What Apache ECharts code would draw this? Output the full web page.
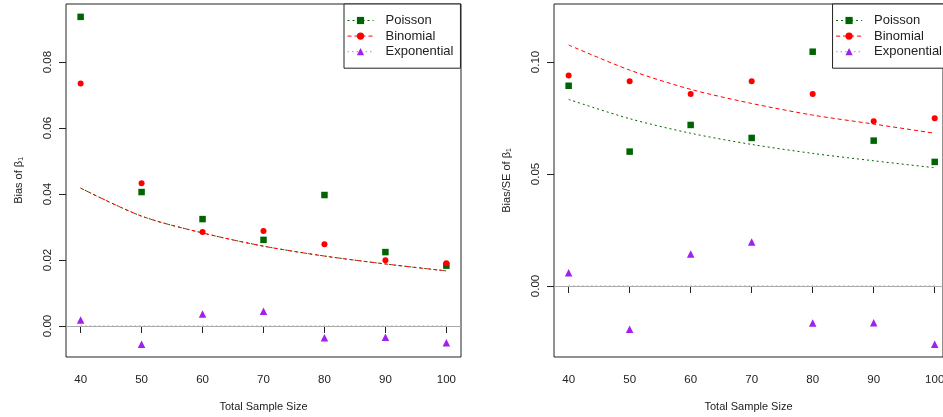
<!DOCTYPE html>
<html><head><meta charset="utf-8">
<script src="https://cdn.jsdelivr.net/npm/echarts@6/dist/echarts.min.js"></script>
<style>html,body{margin:0;padding:0;background:#fff}#c{width:943px;height:417px}</style>
</head><body><div id="c"></div>
<script>
const sampleSizes = [40, 50, 60, 70, 80, 90, 100];
const biasPoisson = [0.0937, 0.0406, 0.0324, 0.0261, 0.0397, 0.0224, 0.0183];
const biasBinomial = [0.0735, 0.0433, 0.0285, 0.0288, 0.0248, 0.0199, 0.0190];
const biasExponential = [0.0018, -0.0055, 0.0036, 0.0045, -0.0036, -0.0034, -0.0051];
const biasTheoryPoisson = [0.0418, 0.0333, 0.0282, 0.0242, 0.0212, 0.0188, 0.0167];
const biasTheoryBinomial = [0.0418, 0.0333, 0.0282, 0.0242, 0.0212, 0.0188, 0.0167];
const biasTheoryExponential = [0, 0, 0, 0, 0, 0, 0];
const bsePoisson = [0.0894, 0.0600, 0.0719, 0.0661, 0.1046, 0.0649, 0.0554];
const bseBinomial = [0.0940, 0.0914, 0.0857, 0.0914, 0.0857, 0.0735, 0.0749];
const bseExponential = [0.0059, -0.0193, 0.0143, 0.0196, -0.0165, -0.0164, -0.0260];
const bseTheoryPoisson = [0.0833, 0.0747, 0.0682, 0.0632, 0.0592, 0.0559, 0.0528];
const bseTheoryBinomial = [0.1076, 0.0964, 0.0878, 0.0815, 0.0763, 0.0723, 0.0682];
const bseTheoryExponential = [0, 0, 0, 0, 0, 0, 0];
const xTicks = [40, 50, 60, 70, 80, 90, 100];
const leftYTicks = [0, 0.02, 0.04, 0.06, 0.08];
const rightYTicks = [0, 0.05, 0.10];
const legendNames = ['Poisson', 'Binomial', 'Exponential'];

const FONT = 'Liberation Sans, Arial, Helvetica, sans-serif';
const GREEN = '#006400', RED = '#FF0000', PURPLE = '#A020F0', INK = '#222';

function zip(xs, ys) { return xs.map((x, i) => [x, ys[i]]); }

function xAxisFor(idx, max) {
  return {
    type: 'value', gridIndex: idx, min: 37.6, max: max,
    axisLine: { show: false }, splitLine: { show: false },
    axisTick: { show: true, length: 7, lineStyle: { color: INK }, customValues: xTicks },
    axisLabel: { customValues: xTicks, fontSize: 11.5, color: INK, fontFamily: FONT, margin: 17 },
    name: 'Total Sample Size', nameLocation: 'middle', nameGap: 44,
    nameTextStyle: { fontSize: 11, color: INK, fontFamily: FONT }
  };
}
function yAxisFor(idx, min, max, ticks, name) {
  return {
    type: 'value', gridIndex: idx, min: min, max: max,
    axisLine: { show: false }, splitLine: { show: false },
    axisTick: { show: true, length: 7, lineStyle: { color: INK }, customValues: ticks },
    axisLabel: { customValues: ticks, rotate: 90, fontSize: 11.5, color: INK, fontFamily: FONT, margin: 12,
      formatter: v => v.toFixed(2) },
    name: name, nameLocation: 'middle', nameGap: 42,
    nameTextStyle: { fontSize: 11, color: INK, fontFamily: FONT }
  };
}
function panelSeries(idx, thP, thB, thE, pP, pB, pE) {
  return [
    { type: 'line', name: 'Poisson', xAxisIndex: idx, yAxisIndex: idx, data: zip(sampleSizes, thP),
      symbol: 'rect', showSymbol: false, smooth: 0.3, z: 2,
      lineStyle: { color: GREEN, width: 1, type: [2, 3] }, itemStyle: { color: GREEN },
      markLine: { silent: true, symbol: 'none', label: { show: false }, animation: false,
        lineStyle: { color: '#aaaaaa', width: 1, type: 'solid' }, data: [{ yAxis: 0 }] } },
    { type: 'line', name: 'Binomial', xAxisIndex: idx, yAxisIndex: idx, data: zip(sampleSizes, thB),
      symbol: 'circle', showSymbol: false, smooth: 0.3, z: 3,
      lineStyle: { color: RED, width: 1, type: [4, 3] }, itemStyle: { color: RED } },
    { type: 'line', name: 'Exponential', xAxisIndex: idx, yAxisIndex: idx, data: zip(sampleSizes, thE),
      symbol: 'triangle', showSymbol: false, z: 3,
      lineStyle: { color: PURPLE, width: 1, type: [1.5, 3], opacity: 0.6 }, itemStyle: { color: PURPLE } },
    { type: 'scatter', name: 'Poisson points', xAxisIndex: idx, yAxisIndex: idx, data: zip(sampleSizes, pP),
      symbol: 'rect', symbolSize: 6.5, itemStyle: { color: GREEN, opacity: 1 }, z: 4 },
    { type: 'scatter', name: 'Binomial points', xAxisIndex: idx, yAxisIndex: idx, data: zip(sampleSizes, pB),
      symbol: 'circle', symbolSize: 6, itemStyle: { color: RED, opacity: 1 }, z: 4 },
    { type: 'scatter', name: 'Exponential points', xAxisIndex: idx, yAxisIndex: idx, data: zip(sampleSizes, pE),
      symbol: 'triangle', symbolSize: 7.5, itemStyle: { color: PURPLE, opacity: 1 }, z: 4 }
  ];
}
function legendAt(pos) {
  return Object.assign({
    data: legendNames, orient: 'vertical', top: 4,
    padding: [10, 7, 10, 3], itemWidth: 26, itemHeight: 9, itemGap: 2.6,
    borderColor: INK, borderWidth: 1, backgroundColor: '#fff', z: 10,
    selectedMode: false,
    lineStyle: { width: 1 },
    textStyle: { fontSize: 13, color: INK, fontFamily: FONT, padding: [0, 0, 0, 7] }
  }, pos);
}

const chart = echarts.init(document.getElementById('c'), null, { renderer: 'canvas' });
chart.setOption({
  animation: false,
  backgroundColor: '#fff',
  grid: [
    { left: 66, top: 4, width: 395, height: 353, show: true, borderColor: INK, borderWidth: 1,
      backgroundColor: 'transparent', outerBoundsMode: 'none', containLabel: false },
    { left: 554, top: 4, width: 389, height: 353, show: true, borderColor: INK, borderWidth: 1,
      backgroundColor: 'transparent', outerBoundsMode: 'none', containLabel: false }
  ],
  xAxis: [xAxisFor(0, 102.4), xAxisFor(1, 101.36)],
  yAxis: [
    yAxisFor(0, -0.0094, 0.0976, leftYTicks, 'Bias of β₁'),
    yAxisFor(1, -0.0317, 0.1259, rightYTicks, 'Bias/SE of β₁')
  ],
  legend: [legendAt({ left: 344 }), legendAt({ right: -6 })],
  series: [].concat(
    panelSeries(0, biasTheoryPoisson, biasTheoryBinomial, biasTheoryExponential, biasPoisson, biasBinomial, biasExponential),
    panelSeries(1, bseTheoryPoisson, bseTheoryBinomial, bseTheoryExponential, bsePoisson, bseBinomial, bseExponential)
  )
});
</script></body></html>
